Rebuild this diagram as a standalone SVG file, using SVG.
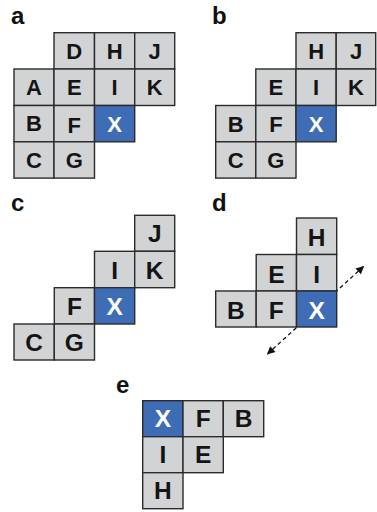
<svg xmlns="http://www.w3.org/2000/svg" width="377" height="512" viewBox="0 0 377 512">
<style>
.lbl{font-family:"Liberation Sans",Arial,sans-serif;font-weight:bold;font-size:24px;fill:#111}
.c rect{fill:#d1d3d4;stroke:#2b2b2b;stroke-width:1.4}
.c.x rect{fill:#3e6db5}
.c text{font-family:"Liberation Sans",Arial,sans-serif;font-weight:bold;font-size:22px;fill:#141414;text-anchor:middle}
.big text{font-size:24.5px}
.c.x text{fill:#fff}
.conn{stroke:#111;stroke-width:1.3;stroke-dasharray:4 3;fill:none}
</style>
<defs>
<marker id="ah" viewBox="0 0 10 10" refX="9" refY="5" markerWidth="9" markerHeight="8" markerUnits="userSpaceOnUse" orient="auto-start-reverse">
<path d="M0,0 L10,5 L0,10 z" fill="#111"/>
</marker>
</defs>
<g id="labels">
<text class="lbl" x="11" y="24">a</text>
<text class="lbl" x="212" y="24">b</text>
<text class="lbl" x="11" y="210.5">c</text>
<text class="lbl" x="212" y="210.5">d</text>
<text class="lbl" x="116" y="392.5">e</text>
</g>
<g id="connectors">
<line class="conn" x1="267.5" y1="354" x2="363.5" y2="266.5" marker-start="url(#ah)" marker-end="url(#ah)"/>
</g>
<g id="panel-a">
<g id="a-D" class="c"><rect x="54" y="32.7" width="40.5" height="36.3"/><text x="74.25" y="58.8">D</text></g>
<g id="a-H" class="c"><rect x="94.5" y="32.7" width="40.2" height="36.3"/><text x="114.6" y="58.8">H</text></g>
<g id="a-J" class="c"><rect x="134.7" y="32.7" width="40" height="36.3"/><text x="154.7" y="58.8">J</text></g>
<g id="a-A" class="c"><rect x="14" y="69" width="40" height="36.5"/><text x="34" y="95.1">A</text></g>
<g id="a-E" class="c"><rect x="54" y="69" width="40.5" height="36.5"/><text x="74.25" y="95.1">E</text></g>
<g id="a-I" class="c"><rect x="94.5" y="69" width="40.2" height="36.5"/><text x="114.6" y="95.1">I</text></g>
<g id="a-K" class="c"><rect x="134.7" y="69" width="40" height="36.5"/><text x="154.7" y="95.1">K</text></g>
<g id="a-B" class="c"><rect x="14" y="105.5" width="40" height="36.3"/><text x="34" y="131.3">B</text></g>
<g id="a-F" class="c"><rect x="54" y="105.5" width="40.5" height="36.3"/><text x="74.25" y="133">F</text></g>
<g id="a-X" class="c x"><rect x="94.5" y="105.5" width="40.2" height="36.3"/><text x="114.6" y="131.5">X</text></g>
<g id="a-C" class="c"><rect x="14" y="141.8" width="40" height="36.3"/><text x="34" y="167.8">C</text></g>
<g id="a-G" class="c"><rect x="54" y="141.8" width="40.5" height="36.3"/><text x="74.25" y="167.8">G</text></g>
</g>
<g id="panel-b">
<g id="b-H" class="c"><rect x="296" y="32.7" width="40.2" height="36.3"/><text x="316.1" y="58.8">H</text></g>
<g id="b-J" class="c"><rect x="336.2" y="32.7" width="39.5" height="36.3"/><text x="356" y="58.8">J</text></g>
<g id="b-E" class="c"><rect x="255.8" y="69" width="40.2" height="36.5"/><text x="275.9" y="95.1">E</text></g>
<g id="b-I" class="c"><rect x="296" y="69" width="40.2" height="36.5"/><text x="316.1" y="95.1">I</text></g>
<g id="b-K" class="c"><rect x="336.2" y="69" width="39.5" height="36.5"/><text x="356" y="95.1">K</text></g>
<g id="b-B" class="c"><rect x="215.7" y="105.5" width="40.1" height="36.3"/><text x="235.75" y="131.5">B</text></g>
<g id="b-F" class="c"><rect x="255.8" y="105.5" width="40.2" height="36.3"/><text x="275.9" y="131.5">F</text></g>
<g id="b-X" class="c x"><rect x="296" y="105.5" width="40.2" height="36.3"/><text x="316.1" y="131.5">X</text></g>
<g id="b-C" class="c"><rect x="215.7" y="141.8" width="40.1" height="36.3"/><text x="235.75" y="167.8">C</text></g>
<g id="b-G" class="c"><rect x="255.8" y="141.8" width="40.2" height="36.3"/><text x="275.9" y="167.8">G</text></g>
</g>
<g id="panel-c" class="big">
<g id="c-J" class="c"><rect x="134.7" y="215.3" width="40" height="36"/><text x="154.7" y="242.3">J</text></g>
<g id="c-I" class="c"><rect x="94.5" y="251.3" width="40.2" height="36.4"/><text x="114.6" y="278.5">I</text></g>
<g id="c-K" class="c"><rect x="134.7" y="251.3" width="40" height="36.4"/><text x="154.7" y="278.5">K</text></g>
<g id="c-F" class="c"><rect x="54.3" y="287.7" width="40.2" height="36.3"/><text x="74.4" y="314.8">F</text></g>
<g id="c-X" class="c x"><rect x="94.5" y="287.7" width="40.2" height="36.3"/><text x="114.6" y="314.8">X</text></g>
<g id="c-C" class="c"><rect x="14" y="324" width="40.3" height="36"/><text x="34.15" y="351">C</text></g>
<g id="c-G" class="c"><rect x="54.3" y="324" width="40.2" height="36"/><text x="74.4" y="351">G</text></g>
</g>
<g id="panel-d" class="big">
<g id="d-H" class="c"><rect x="296.5" y="218" width="40.2" height="36.5"/><text x="316.6" y="246">H</text></g>
<g id="d-E" class="c"><rect x="256.2" y="254.5" width="40.3" height="36.5"/><text x="276.35" y="282.5">E</text></g>
<g id="d-I" class="c"><rect x="296.5" y="254.5" width="40.2" height="36.5"/><text x="316.6" y="282.5">I</text></g>
<g id="d-B" class="c"><rect x="215.7" y="291" width="40.5" height="36"/><text x="235.95" y="319">B</text></g>
<g id="d-F" class="c"><rect x="256.2" y="291" width="40.3" height="36"/><text x="276.35" y="319">F</text></g>
<g id="d-X" class="c x"><rect x="296.5" y="291" width="40.2" height="36"/><text x="316.6" y="319">X</text></g>
</g>
<g id="panel-e" class="big">
<g id="e-X" class="c x"><rect x="142.7" y="400.7" width="40.3" height="36"/><text x="162.85" y="426.8">X</text></g>
<g id="e-F" class="c"><rect x="183" y="400.7" width="40.3" height="36"/><text x="203.15" y="426.8">F</text></g>
<g id="e-B" class="c"><rect x="223.3" y="400.7" width="40.4" height="36"/><text x="243.5" y="426.8">B</text></g>
<g id="e-I" class="c"><rect x="142.7" y="436.7" width="40.3" height="36"/><text x="162.85" y="462.8">I</text></g>
<g id="e-E" class="c"><rect x="183" y="436.7" width="40.3" height="36"/><text x="203.15" y="462.8">E</text></g>
<g id="e-H" class="c"><rect x="142.7" y="472.7" width="40.3" height="36"/><text x="162.85" y="498.8">H</text></g>
</g>
</svg>
